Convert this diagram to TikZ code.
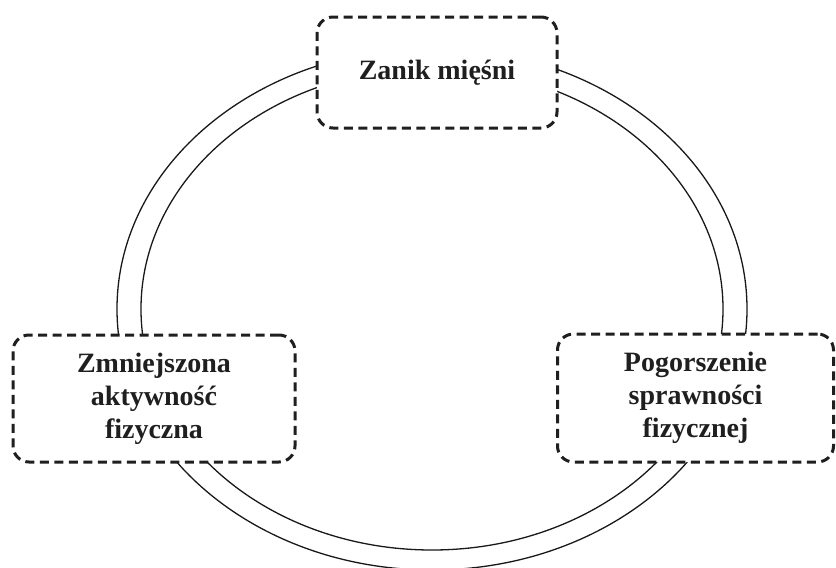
\documentclass[tikz,border=0pt]{standalone}
\usepackage{fontspec}
\setmainfont{Liberation Serif}
\begin{document}
\begin{tikzpicture}[x=1pt,y=-1pt,
  ring/.style={line width=1.3pt, draw=black!90},
  stagebox/.style={draw=black!88, fill=white, line width=3pt,
    dash pattern=on 9pt off 5.5pt, rounded corners=16pt,
    align=center, inner sep=0pt,
    font=\fontsize{28}{33}\selectfont\bfseries, text=black!88}]
\useasboundingbox (0,0) rectangle (836,568);
\draw[ring] (432,309) ellipse [x radius=315, y radius=261];
\draw[ring] (432,309) ellipse [x radius=291, y radius=241];
\node[stagebox, minimum width=240pt, minimum height=111pt] (zanik) at (437,72.5) {Zanik mięśni};
\node[stagebox, minimum width=282pt, minimum height=127pt] (aktyw) at (154,398.5) {Zmniejszona\\aktywność\\fizyczna};
\node[stagebox, minimum width=276pt, minimum height=128pt] (spraw) at (695.5,398) {Pogorszenie\\sprawności\\fizycznej};
\end{tikzpicture}
\end{document}
